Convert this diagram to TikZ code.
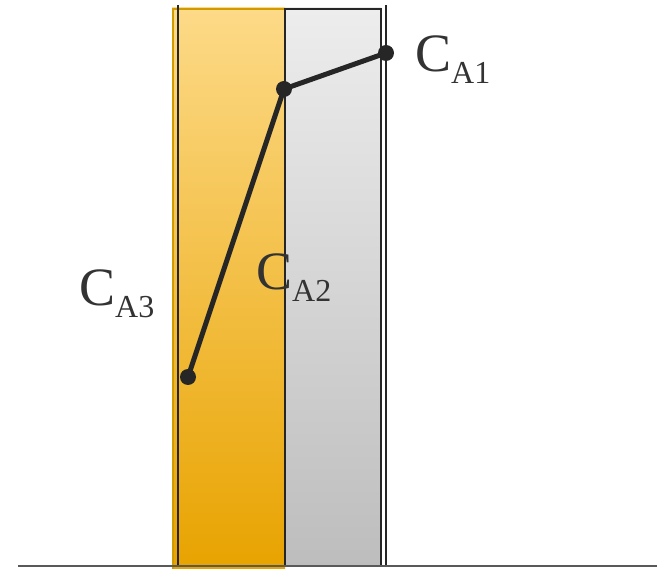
\documentclass[tikz,border=0pt]{standalone}
\usepackage{fontspec}
\setmainfont{Liberation Serif}
\begin{document}
\begin{tikzpicture}[x=1pt,y=-1pt,
  dot/.style={circle,fill=black!85,inner sep=0pt,minimum size=16pt},
  lbl/.style={inner sep=0pt,text=black!80,anchor=base west},
  edge/.style={line width=5pt,draw=black!85}]
\definecolor{orTop}{HTML}{FDDA88}
\definecolor{orBot}{HTML}{E8A300}
\definecolor{orEdge}{HTML}{D09A00}
\definecolor{grTop}{HTML}{EDEDED}
\definecolor{grBot}{HTML}{BDBDBD}
\useasboundingbox (0,0) rectangle (657,569);
% orange slab
\shade[top color=orTop,bottom color=orBot] (172,8) rectangle (285,569);
\draw[orEdge,line width=2pt] (173,569) -- (173,9) -- (285,9);
% gray slab
\shade[top color=grTop,bottom color=grBot] (285,8) rectangle (381,567);
\draw[black!85,line width=2pt] (285,9) rectangle (381,566);
% vertical lines
\draw[black!85,line width=1.8pt] (178,5) -- (178,566);
\draw[black!85,line width=1.8pt] (386,5) -- (386,566);
% baseline
\draw[black!65,line width=2pt] (18,566) -- (657,566);
% points
\node[dot] (p1) at (386,53) {};
\node[dot] (p2) at (284,89) {};
\node[dot] (p3) at (188,377) {};
\draw[edge] (p1.center) -- (p2.center) -- (p3.center);
% labels
\newcommand{\clabel}[1]{{\fontsize{54}{54}\selectfont C}\raisebox{-12pt}{\fontsize{32}{32}\selectfont #1}}
\node[lbl] (l1) at (415,72) {\clabel{A1}};
\node[lbl] (l2) at (256,290) {\clabel{A2}};
\node[lbl] (l3) at (79,306) {\clabel{A3}};
\end{tikzpicture}
\end{document}
